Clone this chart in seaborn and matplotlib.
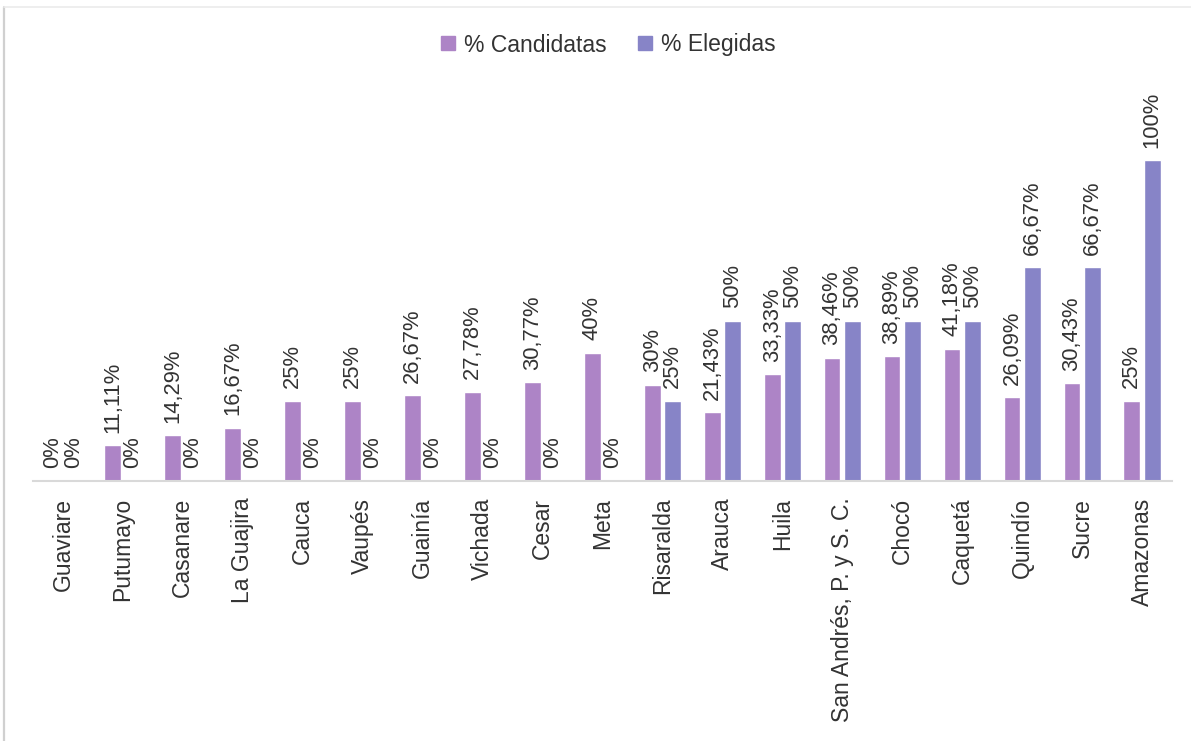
import matplotlib
matplotlib.use("Agg")
import matplotlib.pyplot as plt
from matplotlib.lines import Line2D
import seaborn as sns
import pandas as pd

departamentos = ["Guaviare", "Putumayo", "Casanare", "La Guajira", "Cauca", "Vaupés",
                 "Guainía", "Vichada", "Cesar", "Meta", "Risaralda", "Arauca", "Huila",
                 "San Andrés, P. y S. C.", "Chocó", "Caquetá", "Quindío", "Sucre", "Amazonas"]
candidatas = [0, 11.11, 14.29, 16.67, 25, 25, 26.67, 27.78, 30.77, 40, 30, 21.43, 33.33,
              38.46, 38.89, 41.18, 26.09, 30.43, 25]
elegidas = [0, 0, 0, 0, 0, 0, 0, 0, 0, 0, 25, 50, 50, 50, 50, 50, 66.67, 66.67, 100]
series = ["% Candidatas", "% Elegidas"]
colores = ["#AD84C6", "#8784C7"]

def fmt(v):
    if abs(v - round(v)) < 1e-9:
        return f"{int(round(v))}%"
    return f"{v:.2f}".replace(".", ",") + "%"

df = pd.DataFrame({
    "dep": departamentos * 2,
    "val": candidatas + elegidas,
    "serie": [series[0]] * len(departamentos) + [series[1]] * len(departamentos),
})

sns.set_theme(style="white")
plt.rcParams["font.family"] = ["Liberation Sans", "DejaVu Sans"]

fig = plt.figure(figsize=(11.91, 7.41), dpi=100)
ax = fig.add_axes([33 / 1191, 1 - 481 / 741, (1172 - 33) / 1191, 385 / 741])

sns.barplot(data=df, x="dep", y="val", hue="serie", palette=colores,
            width=0.68, gap=0.18, ax=ax, legend=False, saturation=1)

for cont, vals in zip(ax.containers, [candidatas, elegidas]):
    ax.bar_label(cont, labels=[fmt(v) for v in vals], rotation=90, padding=9,
                 fontsize=15.8, color="#333333")

ax.set_ylim(0, 120)
ax.set_xlim(-0.5, len(departamentos) - 0.5)
ax.set_xlabel("")
ax.set_ylabel("")
ax.set_yticks([])
for s in ["top", "right", "left"]:
    ax.spines[s].set_visible(False)
ax.spines["bottom"].set_color("#D9D9D9")
ax.spines["bottom"].set_linewidth(1.5)
ax.tick_params(axis="x", length=0, pad=12, labelsize=16.5, labelcolor="#333333")
plt.setp(ax.get_xticklabels(), rotation=90, va="top", ha="center")

handles = [Line2D([0], [0], marker="s", linestyle="none", markersize=10,
                  markerfacecolor=c, markeredgecolor=c) for c in colores]
fig.legend(handles, series, loc="center", bbox_to_anchor=(608 / 1191, 1 - 45 / 741),
           ncol=2, frameon=False, fontsize=16.5, handlelength=0.7, handletextpad=0.35,
           columnspacing=1.3, labelcolor="#333333")

# outer chart border fragments
fig.add_artist(Line2D([3.5 / 1191, 3.5 / 1191], [0, 1 - 7 / 741], transform=fig.transFigure,
                      color="#D0D0D0", linewidth=1.6))
fig.add_artist(Line2D([3.5 / 1191, 1], [1 - 7 / 741, 1 - 7 / 741], transform=fig.transFigure,
                      color="#EBEBEB", linewidth=1.2))

fig.savefig("out.png", dpi=100, facecolor="white")
